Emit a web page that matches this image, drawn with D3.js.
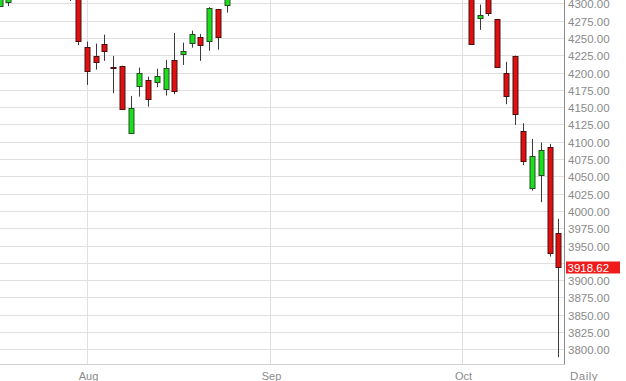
<!DOCTYPE html>
<html>
<head>
<meta charset="utf-8">
<script src="https://cdn.jsdelivr.net/npm/d3@7"></script>
<style>
  html, body { margin: 0; padding: 0; background: #fff; }
  svg { display: block; }
  text { font-family: Arial, "Liberation Sans", sans-serif; }
</style>
</head>
<body>
<svg id="chart" width="626" height="381"></svg>
<script>
// ---- data (trading-day index, OHLC) ----
const tradingDay = [0, 1, 8, 9, 10, 11, 12, 13, 14, 15, 16, 17, 18, 19, 20, 21, 22, 23, 24, 25, 26,
                    54, 55, 56, 57, 58, 59, 60, 61, 62, 63, 64];
const openVals  = [4296.4, 4302.5, 4320, 4335, 4236.7, 4224.1, 4241.9, 4207.5, 4209.7, 4113.3, 4181.2, 4189.5, 4186.1, 4176.4, 4217.9, 4227.0, 4242.5, 4251.2, 4246.2, 4291.6, 4297.8,
                   4318, 4279.5, 4308, 4277.6, 4199.6, 4224.1, 4115.8, 4033.0, 4051.7, 4092.2, 3968.8];
const highVals  = [4318, 4312, 4330, 4340, 4244.8, 4241.9, 4254.9, 4224.1, 4210.0, 4166.3, 4207.2, 4194.2, 4205.4, 4218.4, 4257.4, 4243.4, 4260.7, 4255.9, 4294.5, 4292.0, 4320,
                   4322, 4298.3, 4312, 4277.6, 4215.5, 4224.5, 4126.9, 4104.2, 4098.9, 4097.0, 3988.6];
const lowVals   = [4295.5, 4296.0, 4303.5, 4239.6, 4182.2, 4204.3, 4216.9, 4170.2, 4146.1, 4111.4, 4165.3, 4150.9, 4178.9, 4166.8, 4168.8, 4211.1, 4236.1, 4216.9, 4231.4, 4233.2, 4286.7,
                   4241.5, 4261.7, 4281.9, 4207.8, 4154.3, 4124.4, 4066.2, 4029.5, 4012.7, 3934.1, 3788.8];
const closeVals = [4312, 4308, 4310, 4245.8, 4202.0, 4215.9, 4231.4, 4207.0, 4147.6, 4148.6, 4199.1, 4161.6, 4195.2, 4206.8, 4173.1, 4231.8, 4255.5, 4239.6, 4293.5, 4252.0, 4315,
                   4241.5, 4283.0, 4285.8, 4207.8, 4166.8, 4139.9, 4072.8, 4079.6, 4088.7, 3939.0, 3918.62];

const yTickValues = [3800, 3825, 3850, 3875, 3900, 3925, 3950, 3975, 4000, 4025, 4050, 4075, 4100,
                     4125, 4150, 4175, 4200, 4225, 4250, 4275, 4300];
const monthLabels = ["Aug", "Sep", "Oct"];
const monthStartDay = [10, 31, 53];
const periodLabel = "Daily";
const lastPrice = 3918.62;

// ---- layout ----
const plotW = 564, plotH = 364;
const svg = d3.select("#chart");

const x = d3.scaleLinear().domain([9, 64]).range([78.3, 558.3]);
const y = d3.scaleLinear().domain([3800, 4300]).range([349.4, 3.4]);

const candles = tradingDay.map((d, i) => ({
  d, o: openVals[i], h: highVals[i], l: lowVals[i], c: closeVals[i]
}));

svg.append("defs").append("clipPath").attr("id", "plotClip")
  .append("rect").attr("x", 0).attr("y", 0).attr("width", plotW).attr("height", plotH);

// horizontal grid + right axis labels
const yAxis = d3.axisRight(y)
  .tickValues(yTickValues)
  .tickSize(-plotW)
  .tickPadding(4)
  .tickFormat(d3.format(".2f"));
const yg = svg.append("g").attr("transform", `translate(${plotW},0)`).call(yAxis);
yg.select(".domain").remove();
yg.selectAll(".tick line").attr("stroke", "#e0e0e0").attr("stroke-width", 1);
yg.selectAll(".tick").attr("transform", d => `translate(0,${Math.round(y(d)) + 0.5})`);
yg.selectAll(".tick text")
  .attr("fill", "#8a8a8a")
  .attr("font-size", "11.5px")
  .attr("font-family", "Arial, 'Liberation Sans', sans-serif")
  .attr("dy", "0.35em")
  // labels hidden behind the last-price tag are not shown
  .attr("display", d => Math.abs(y(d) - y(lastPrice)) < 9 ? "none" : null);

// vertical month gridlines + labels
const monthX = monthStartDay.map(d => Math.round(x(d)) + 0.5);
svg.append("g").selectAll("line").data(monthX).join("line")
  .attr("x1", d => d).attr("x2", d => d)
  .attr("y1", 0).attr("y2", plotH)
  .attr("stroke", "#e0e0e0").attr("stroke-width", 1);

svg.append("g").selectAll("text").data(monthLabels).join("text")
  .attr("x", (d, i) => monthX[i] + 1)
  .attr("y", 379.5)
  .attr("text-anchor", "middle")
  .attr("fill", "#8a8a8a")
  .attr("font-size", "11px")
  .text(d => d);

svg.append("text")
  .attr("x", 584).attr("y", 379.5)
  .attr("text-anchor", "middle")
  .attr("fill", "#8a8a8a")
  .attr("font-size", "11.5px")
  .attr("letter-spacing", "0.5px")
  .text(periodLabel);

// axis frame lines
svg.append("line").attr("x1", 0).attr("x2", plotW + 0.5).attr("y1", plotH + 0.5).attr("y2", plotH + 0.5)
  .attr("stroke", "#cfcfcf");
svg.append("line").attr("x1", plotW + 0.5).attr("x2", plotW + 0.5).attr("y1", 0).attr("y2", plotH + 0.5)
  .attr("stroke", "#8c8c8c");

// candles
const cg = svg.append("g").attr("clip-path", "url(#plotClip)");
const snap = v => Math.round(v) + 0.5;
const bodyHalf = 2.5;

const cs = cg.selectAll("g.candle").data(candles).join("g").attr("class", "candle");
cs.append("line")
  .attr("x1", d => snap(x(d.d))).attr("x2", d => snap(x(d.d)))
  .attr("y1", d => y(d.h)).attr("y2", d => y(d.l))
  .attr("stroke", "#3a3a3a").attr("stroke-width", 1);
cs.append("rect")
  .attr("x", d => snap(x(d.d)) - bodyHalf)
  .attr("width", bodyHalf * 2)
  .attr("y", d => snap(y(Math.max(d.o, d.c))))
  .attr("height", d => Math.max(1, Math.round(y(Math.min(d.o, d.c))) - Math.round(y(Math.max(d.o, d.c)))))
  .attr("fill", d => d.c >= d.o ? "#19e019" : "#e01010")
  .attr("stroke", d => d.c >= d.o ? "#2a4a2a" : "#4a1010")
  .attr("stroke-width", 1);

// last price tag
svg.append("rect")
  .attr("x", 566).attr("y", Math.round(y(lastPrice)) - 5.5)
  .attr("width", 54).attr("height", 12)
  .attr("fill", "#ee1c1c");
svg.append("text")
  .attr("x", 567.5).attr("y", Math.round(y(lastPrice)) + 0.5)
  .attr("dy", "0.35em")
  .attr("fill", "#ffffff")
  .attr("font-size", "11.5px")
  .text(d3.format(".2f")(lastPrice));
</script>
</body>
</html>
